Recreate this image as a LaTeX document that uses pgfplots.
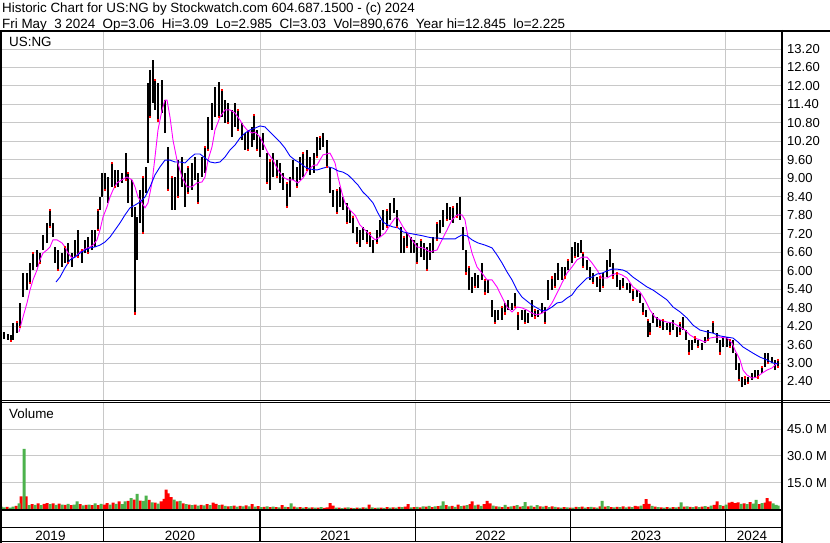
\documentclass[border=0pt]{standalone}
\usepackage{fontspec}
\setmainfont{Liberation Sans}
\usepackage{pgfplots}
\usepackage{pgfplotstable}
\pgfplotsset{compat=1.18}
\definecolor{gridc}{RGB}{200,200,200}
\definecolor{volred}{RGB}{255,0,0}
\definecolor{volgreen}{RGB}{76,178,76}
\definecolor{mablue}{RGB}{0,0,255}
\definecolor{mamag}{RGB}{255,0,255}

\pgfplotstableread{
x hi lo
0 3.97 3.81
4 4.00 3.78
8 3.94 3.75
11 3.91 3.72
13 4.30 3.75
17 4.33 3.97
20 4.95 4.17
23 5.92 5.14
27 5.92 5.37
30 6.25 5.60
33 6.57 6.02
37 6.67 6.12
40 6.57 6.25
43 7.16 6.67
47 7.55 6.90
50 7.97 7.42
53 7.55 7.09
55 6.77 6.25
58 6.67 6.02
62 6.57 6.12
65 6.77 6.25
68 6.90 6.25
72 6.57 6.12
75 7.00 6.44
78 7.32 6.44
82 6.67 6.25
85 7.00 6.57
88 7.09 6.57
92 7.32 6.67
95 7.32 6.77
98 7.97 7.32
100 8.39 7.97
102 9.17 8.39
105 9.17 8.62
108 9.04 8.20
112 9.50 8.72
115 9.27 8.72
118 9.27 8.72
122 9.17 8.85
126 9.82 8.95
128 9.17 8.20
132 8.95 7.74
135 8.07 4.62
137 7.74 6.35
140 8.62 7.55
143 9.04 7.22
146 9.37 8.52
148 12.10 9.50
150 12.52 10.99
153 12.84 11.45
155 12.19 11.22
158 12.10 10.89
162 12.19 11.12
165 11.54 10.47
168 10.02 8.62
172 9.04 7.97
175 9.04 7.97
178 9.59 8.39
182 9.69 8.72
185 9.17 8.07
188 9.37 8.52
192 9.50 8.62
195 9.69 8.95
198 9.17 8.20
202 9.69 9.04
205 10.02 9.17
208 10.99 9.92
212 11.45 10.57
215 11.97 10.99
219 12.13 10.99
222 11.87 10.99
225 11.54 10.80
228 11.45 10.80
232 11.22 10.34
235 11.45 10.67
238 11.22 10.57
242 10.80 10.24
245 10.47 9.92
248 10.57 9.92
252 10.67 10.02
254 11.06 10.24
257 10.57 9.92
260 10.34 9.69
263 10.47 9.92
267 9.82 8.85
270 9.59 8.62
273 9.82 9.04
277 9.59 9.04
280 9.50 8.85
283 9.17 8.62
287 8.85 8.07
290 9.04 8.39
293 9.59 8.95
297 9.37 8.72
300 9.69 8.95
303 9.82 9.04
307 9.92 9.27
310 9.69 9.11
314 9.82 9.17
317 10.34 9.69
320 10.34 9.92
323 10.47 10.02
327 10.24 9.37
330 9.37 8.52
333 8.62 8.07
337 8.62 7.87
340 8.72 8.07
343 8.39 7.97
347 8.20 7.55
350 7.97 7.55
353 7.74 7.22
357 7.42 6.90
360 7.32 6.77
363 7.42 7.00
367 7.32 6.90
370 7.22 6.77
373 7.00 6.57
377 7.32 6.90
380 7.65 7.09
383 7.97 7.32
387 7.97 7.42
390 8.20 7.65
394 8.36 7.87
397 7.97 7.42
401 7.42 6.57
404 7.09 6.57
407 7.22 6.77
411 7.09 6.57
414 7.00 6.57
417 6.90 6.25
421 7.00 6.44
424 6.90 6.35
427 6.77 6.02
430 6.90 6.35
433 7.09 6.57
437 7.55 7.00
440 7.65 7.22
443 7.97 7.42
447 8.20 7.65
450 8.07 7.65
453 8.07 7.55
457 8.20 7.74
460 8.39 7.65
463 7.42 6.67
466 6.67 5.92
469 6.12 5.37
472 5.79 5.27
475 5.92 5.47
478 5.86 5.44
482 6.25 5.70
485 5.70 5.27
488 5.70 5.27
492 5.05 4.49
495 4.72 4.30
498 4.72 4.40
502 4.82 4.40
505 4.95 4.62
508 5.05 4.72
512 4.95 4.72
515 5.27 4.82
518 4.62 4.07
522 4.72 4.40
525 4.72 4.30
528 4.62 4.30
532 5.05 4.49
535 4.72 4.49
538 4.72 4.49
542 4.95 4.62
545 4.82 4.30
548 5.70 5.05
552 5.79 5.37
555 5.92 5.47
558 6.25 5.70
562 6.12 5.70
565 6.12 5.79
568 6.35 6.02
572 6.77 6.25
575 6.93 6.44
578 6.90 6.44
581 7.00 6.57
583 6.57 6.12
587 6.35 6.02
590 6.12 5.70
593 5.92 5.60
597 5.79 5.47
600 5.79 5.31
603 5.92 5.47
607 6.35 5.79
610 6.70 6.12
613 6.25 5.79
617 5.92 5.47
620 5.70 5.37
623 5.76 5.47
627 5.60 5.37
630 5.60 5.27
633 5.37 5.05
637 5.37 5.14
640 5.27 4.95
643 4.95 4.62
646 4.72 4.49
648 4.40 3.84
650 4.30 3.97
653 4.62 4.30
657 4.49 4.17
660 4.40 4.17
663 4.40 4.07
667 4.30 4.07
670 4.30 3.97
673 4.40 4.07
677 4.17 3.84
680 4.30 3.97
683 4.49 4.07
686 4.07 3.75
689 3.75 3.32
692 3.75 3.42
695 3.84 3.65
698 3.75 3.52
702 3.65 3.42
705 3.84 3.65
708 4.07 3.75
713 4.33 3.97
717 3.97 3.65
720 3.75 3.32
723 3.84 3.52
727 3.84 3.52
730 3.75 3.52
733 3.75 3.32
736 3.32 2.77
739 3.00 2.45
742 2.54 2.22
745 2.54 2.28
748 2.54 2.35
752 2.67 2.45
755 2.77 2.51
758 2.77 2.54
762 2.87 2.67
765 3.32 2.87
768 3.32 3.00
772 3.19 3.00
775 3.10 2.77
778 3.10 2.87
}\pricetab

\pgfplotstableread{
x y
19 4.01
23 4.49
27 4.95
30 5.37
33 5.70
37 6.02
40 6.35
43 6.57
47 6.67
50 6.77
53 7.00
57 7.00
62 6.90
65 6.77
68 6.57
72 6.41
75 6.44
80 6.61
85 6.70
90 6.77
93 6.83
97 7.00
100 7.32
103 7.74
107 8.07
110 8.39
113 8.62
117 8.85
122 8.95
127 9.04
132 8.95
135 8.72
138 8.39
142 8.20
145 8.04
148 8.20
152 8.85
155 9.69
158 10.57
162 11.22
165 11.54
167 11.54
170 10.99
173 10.24
177 9.59
182 9.04
187 8.72
192 8.72
197 8.85
202 8.88
205 9.04
208 9.59
212 10.02
215 10.57
220 10.99
225 11.22
230 11.22
235 11.12
240 10.89
243 10.73
247 10.57
252 10.47
255 10.50
260 10.34
263 10.15
268 9.82
273 9.59
278 9.27
283 9.04
288 8.95
293 8.95
298 8.85
303 9.01
308 9.27
314 9.43
317 9.43
323 9.76
330 9.82
335 9.50
338 9.04
342 8.52
345 8.20
350 7.97
355 7.81
360 7.48
365 7.32
370 7.16
375 7.00
380 7.09
385 7.22
390 7.48
395 7.71
398 7.71
403 7.42
410 7.09
417 6.77
423 6.74
430 6.61
437 6.67
442 7.00
447 7.32
452 7.65
457 7.81
462 7.81
465 7.65
468 7.09
472 6.57
477 6.12
482 5.92
487 5.70
492 5.70
497 5.47
502 5.14
507 4.82
512 4.66
517 4.82
522 4.79
527 4.72
532 4.62
537 4.56
542 4.62
547 4.72
552 4.95
557 5.27
562 5.60
567 5.92
572 6.12
577 6.35
582 6.44
587 6.44
592 6.25
597 6.02
602 5.76
607 5.76
612 5.86
617 5.92
622 5.86
627 5.76
633 5.47
640 5.31
645 5.05
650 4.72
655 4.49
660 4.40
667 4.33
673 4.30
680 4.17
685 4.07
690 3.91
695 3.81
700 3.75
705 3.68
710 3.81
715 3.84
720 3.84
727 3.81
732 3.65
735 3.42
740 3.10
743 2.77
747 2.61
752 2.51
757 2.54
762 2.67
767 2.77
772 2.84
777 3.00
}\magtab

\pgfplotstableread{
x y
56 5.63
60 5.79
65 6.09
70 6.35
75 6.44
80 6.57
85 6.67
90 6.74
95 6.77
100 6.83
105 6.93
110 7.09
115 7.32
120 7.55
125 7.81
130 8.04
135 8.13
140 8.23
145 8.39
150 8.72
155 9.11
160 9.37
165 9.59
170 9.59
175 9.53
180 9.53
185 9.50
190 9.66
195 9.79
200 9.79
205 9.66
210 9.53
215 9.50
220 9.53
225 9.69
230 9.92
235 10.08
240 10.31
245 10.47
250 10.57
255 10.63
260 10.70
265 10.67
270 10.50
275 10.34
280 10.18
285 9.98
290 9.72
295 9.59
300 9.50
305 9.37
310 9.30
317 9.27
323 9.33
328 9.37
333 9.33
338 9.24
343 9.20
348 9.11
353 8.95
358 8.78
363 8.55
368 8.39
373 8.20
378 7.87
383 7.58
388 7.48
393 7.42
398 7.39
403 7.26
408 7.22
413 7.19
418 7.16
423 7.13
428 7.09
433 7.06
438 7.06
443 7.03
450 7.03
455 7.03
458 7.09
462 7.16
467 7.13
472 7.00
478 6.90
485 6.83
492 6.74
497 6.51
502 6.25
507 5.96
512 5.70
517 5.37
522 5.14
527 5.01
532 4.88
537 4.79
542 4.69
547 4.72
552 4.82
557 4.95
562 4.98
567 5.11
572 5.21
577 5.44
582 5.60
587 5.76
592 5.79
597 5.89
602 5.92
607 5.99
612 6.05
617 6.05
623 6.02
627 5.96
633 5.79
640 5.63
647 5.47
653 5.37
660 5.21
667 5.05
673 4.82
680 4.66
687 4.46
693 4.23
700 4.07
707 4.01
713 3.97
720 3.88
727 3.84
733 3.81
738 3.68
743 3.52
748 3.42
753 3.32
760 3.19
767 3.10
773 3.00
778 2.97
}\bluetab

\pgfplotstableread{
x v
7 1.5
16 2.0
21 7.3
26 7.3
32 3.0
38 3.5
44 3.2
47 3.6
53 3.4
59 3.3
65 2.6
71 2.4
80 3.0
86 2.6
92 2.4
98 2.5
104 2.8
107 3.6
113 3.9
119 4.5
128 4.8
134 5.6
140 5.0
149 5.4
155 3.8
161 4.5
164 6.0
166 11.1
168 9.0
171 7.0
177 4.5
183 3.5
189 2.8
195 2.7
201 2.6
207 3.0
213 3.8
216 3.2
222 2.8
228 1.8
234 2.2
240 2.0
246 2.3
252 3.0
258 1.9
264 1.5
270 1.3
276 1.4
282 2.5
288 1.3
294 1.6
300 1.4
306 1.3
312 1.2
318 1.0
324 0.9
327 1.2
330 3.6
333 2.2
339 1.1
345 1.0
351 0.9
357 1.1
363 1.2
369 2.8
375 0.9
381 1.0
387 1.3
393 1.2
399 1.5
405 1.6
408 3.0
414 1.4
420 1.2
426 1.6
432 1.4
438 1.9
446 2.4
452 2.0
458 2.7
464 2.2
470 3.0
472 4.5
478 2.7
484 3.0
487 4.8
490 3.5
496 1.8
502 1.4
508 1.5
514 2.0
520 1.6
528 1.7
534 1.5
540 1.8
546 2.0
552 1.7
558 1.2
564 1.3
570 1.0
576 1.5
582 1.6
588 1.4
594 1.2
600 1.8
605 1.6
611 1.4
617 1.5
623 1.7
629 1.6
635 2.0
638 1.8
644 3.0
646 5.8
649 3.2
655 1.6
661 1.2
667 1.4
673 1.3
679 1.5
684 1.6
690 1.5
696 1.7
702 1.6
708 1.5
714 2.6
717 4.6
723 2.0
729 3.8
732 4.3
735 3.6
738 4.0
744 3.5
750 4.2
759 3.0
765 3.8
767 6.4
770 4.5
}\volredtab

\pgfplotstableread{
x v
1 1.6
4 1.2
10 1.0
13 1.6
19 3.5
24 33.9
29 2.5
35 2.6
41 2.4
50 3.0
56 2.6
62 2.8
68 3.2
74 2.7
77 4.5
83 2.3
89 2.8
95 3.5
101 3.2
110 2.7
116 3.1
122 3.0
125 4.5
131 6.4
137 8.8
143 4.8
146 7.8
152 4.0
158 3.3
174 5.5
180 4.8
186 3.0
192 2.5
198 2.2
204 2.3
210 2.5
219 2.4
225 2.0
231 1.9
237 1.6
243 1.7
249 1.8
255 1.6
261 1.4
267 1.7
273 1.6
279 1.2
285 1.5
291 3.5
297 1.2
303 1.1
309 1.0
315 1.1
321 1.3
336 1.0
342 0.8
348 1.2
354 0.8
360 0.9
366 1.0
372 1.2
378 1.1
384 0.9
390 1.1
396 1.0
402 1.3
411 1.2
417 1.5
423 1.8
429 2.0
435 1.7
441 2.2
443 4.5
449 1.8
455 1.5
461 1.9
467 2.4
475 2.3
481 2.0
493 2.2
499 1.6
505 2.6
511 1.8
517 2.5
523 1.9
525 4.1
531 2.2
537 2.4
543 1.6
549 1.4
555 1.5
561 1.1
567 1.2
573 1.1
579 1.3
585 1.0
591 1.5
597 1.1
602 4.8
608 1.9
614 1.2
620 1.3
626 1.2
632 1.4
641 2.2
652 2.0
658 1.4
664 1.1
670 1.0
676 1.2
681 4.0
687 1.8
693 1.3
699 1.4
705 1.9
711 2.2
720 2.4
726 2.8
741 3.2
747 3.0
753 3.3
756 5.4
762 3.6
773 3.4
776 2.6
778 2.2
}\volgreentab

\begin{document}
\begin{tikzpicture}[x=1pt,y=1pt]
\fill[white] (0,0) rectangle (830,-543);
\useasboundingbox (0,0) rectangle (830,-543);

% ---------------- price panel
\begin{axis}[
  at={(0pt,-400pt)}, anchor=south west, scale only axis,
  width=781pt, height=368pt,
  xmin=0, xmax=781, ymin=1.798, ymax=13.752,
  axis line style={draw=none},
  xtick={103.3,260,415.3,570.3,725.3}, xticklabels={},
  ytick={2.4,3.0,3.6,4.2,4.8,5.4,6.0,6.6,7.2,7.8,8.4,9.0,9.6,10.2,10.8,11.4,12.0,12.6,13.2},
  yticklabels={2.40,3.00,3.60,4.20,4.80,5.40,6.00,6.60,7.20,7.80,8.40,9.00,9.60,10.20,10.80,11.40,12.00,12.60,13.20},
  xmajorgrids, ymajorgrids,
  grid style={gridc, line width=0.9pt},
  major tick length=0pt,
  ytick pos=right, yticklabel pos=right,
  yticklabel style={anchor=west, inner sep=0pt, xshift=6pt, font=\fontsize{13}{15}\selectfont},
  clip=true,
]
\addplot[draw=none, forget plot,
  error bars/.cd, y dir=plus, y explicit, error mark=none,
  error bar style={draw=black, line width=2.8pt}]
  table[x=x, y=lo, y error plus expr=\thisrow{hi}-\thisrow{lo}] {\pricetab};
\addplot[only marks, mark=square*, mark size=0.6pt, color=red, each nth point=3] table[x=x, y=lo] {\pricetab};
\addplot[only marks, mark=square*, mark size=0.6pt, color=red, each nth point=5] table[x=x, y=hi] {\pricetab};
\addplot[mamag, line width=0.9pt] table[x=x, y=y] {\magtab};
\addplot[mablue, line width=0.9pt] table[x=x, y=y] {\bluetab};
\end{axis}

% ---------------- volume panel
\begin{axis}[
  at={(0pt,-509.5pt)}, anchor=south west, scale only axis,
  width=781pt, height=107.5pt,
  xmin=0, xmax=781, ymin=0, ymax=60.2,
  axis line style={draw=none},
  xtick={103.3,260,415.3,570.3,725.3}, xticklabels={},
  ytick={15,30,45}, yticklabels={15.0 M,30.0 M,45.0 M},
  xmajorgrids, ymajorgrids,
  grid style={gridc, line width=0.9pt},
  major tick length=0pt,
  ytick pos=right, yticklabel pos=right,
  yticklabel style={anchor=west, inner sep=0pt, xshift=6pt, font=\fontsize{13}{15}\selectfont},
  clip=true,
]
\addplot[ybar, bar shift=0pt, bar width=3pt, fill=volred, draw=none] table[x=x, y=v] {\volredtab};
\addplot[ybar, bar shift=0pt, bar width=3pt, fill=volgreen, draw=none] table[x=x, y=v] {\volgreentab};
\end{axis}

% ---------------- frame
\draw[line width=2pt] (0,-31) -- (830,-31);
\draw[line width=2pt] (1,-30) -- (1,-543);
\draw[line width=2pt] (782,-30) -- (782,-543);
\draw[line width=1pt] (0,-400.2) -- (830,-400.2);
\draw[line width=1pt] (0,-402.2) -- (830,-402.2);
\draw[line width=1.8pt] (0,-510.2) -- (782,-510.2);
\draw[line width=1.8pt] (0,-527.5) -- (782,-527.5);
\draw[line width=1.6pt] (0,-541.3) -- (782,-541.3);
\foreach \xx in {103.3,260,415.3,570.3,725.3} {\draw[line width=1.2pt] (\xx,-510) -- (\xx,-541.5);}

% ---------------- texts
\begingroup\fontsize{13.4}{15}\selectfont
\node[anchor=base west, inner sep=0pt] at (2,-12.3) {Historic Chart for US:NG by Stockwatch.com 604.687.1500 - (c) 2024};
\node[anchor=base west, inner sep=0pt] at (2,-28.3) {Fri May\ \ 3 2024\ \ Op=3.06\ \ Hi=3.09\ \ Lo=2.985\ \ Cl=3.03\ \ Vol=890,676\ \ Year hi=12.845\ \ lo=2.225};
\node[anchor=base west, inner sep=0pt] at (9,-46.7) {US:NG};
\node[anchor=base west, inner sep=0pt] at (9,-418.3) {Volume};
\endgroup
\begingroup\fontsize{13.5}{15}\selectfont
\node[anchor=base, inner sep=0pt] at (50.5,-540) {2019};
\node[anchor=base, inner sep=0pt] at (180,-540) {2020};
\node[anchor=base, inner sep=0pt] at (335.3,-540) {2021};
\node[anchor=base, inner sep=0pt] at (490.5,-540) {2022};
\node[anchor=base, inner sep=0pt] at (646,-540) {2023};
\node[anchor=base, inner sep=0pt] at (752,-540) {2024};
\endgroup
\end{tikzpicture}
\end{document}
